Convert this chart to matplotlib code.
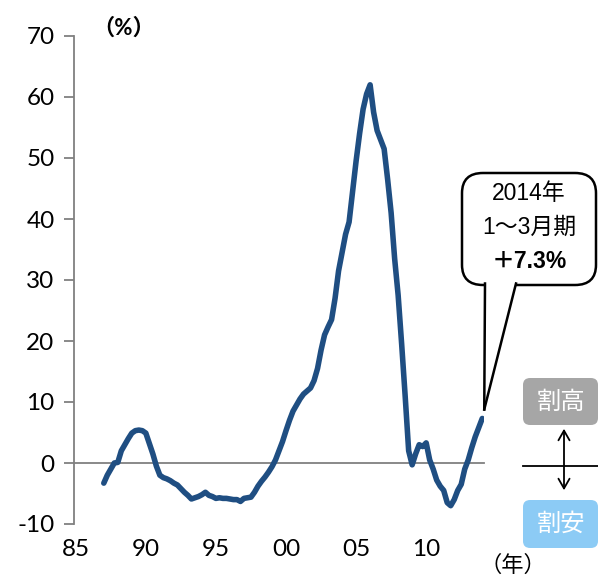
import matplotlib
matplotlib.use("Agg")
import matplotlib.pyplot as plt
import numpy as np
from matplotlib.patches import FancyBboxPatch, Polygon
from matplotlib.lines import Line2D

plt.rcParams["font.family"] = ["Lato", "Noto Sans CJK JP", "DejaVu Sans"]

# quarterly, 1987Q1 .. 2014Q1
start_year = 1987
values = [
    -3.3, -2.0, -1.0, 0.0,      # 1987
    0.1, 2.0, 3.0, 4.0,         # 1988
    4.9, 5.3, 5.4, 5.3,         # 1989
    4.9, 3.2, 1.5, -0.5,        # 1990
    -2.0, -2.4, -2.6, -2.9,     # 1991
    -3.3, -3.6, -4.2, -4.8,     # 1992
    -5.3, -5.9, -5.7, -5.5,     # 1993
    -5.2, -4.8, -5.3, -5.5,     # 1994
    -5.8, -5.7, -5.8, -5.8,     # 1995
    -5.9, -6.0, -6.0, -6.3,     # 1996
    -5.8, -5.7, -5.6, -4.8,     # 1997
    -3.8, -3.0, -2.3, -1.5,     # 1998
    -0.6, 0.5, 2.0, 3.5,        # 1999
    5.3, 7.0, 8.5, 9.5,         # 2000
    10.5, 11.3, 11.8, 12.3,     # 2001
    13.5, 15.5, 18.5, 21.0,     # 2002
    22.3, 23.5, 27.0, 31.5,     # 2003
    34.5, 37.5, 39.5, 44.5,     # 2004
    49.5, 54.0, 58.0, 60.5,     # 2005
    62.0, 57.5, 54.5, 53.0,     # 2006
    51.5, 46.5, 41.0, 33.5,     # 2007
    27.5, 19.5, 11.0, 2.0,      # 2008
    -0.3, 1.5, 3.0, 2.7,        # 2009
    3.3, 0.5, -1.0, -2.8,       # 2010
    -3.8, -4.5, -6.5, -7.0,     # 2011
    -6.0, -4.5, -3.5, -1.0,     # 2012
    0.5, 2.5, 4.3, 5.8,         # 2013
    7.3,                        # 2014Q1
]
tick_years = [1985, 1990, 1995, 2000, 2005, 2010]
tick_labels = ["85", "90", "95", "00", "05", "10"]
y_ticks = [-10, 0, 10, 20, 30, 40, 50, 60, 70]

W, H = 598, 576
fig = plt.figure(figsize=(W / 100, H / 100), dpi=100)


def fp(x, y):
    return x / W, 1 - y / H


ax = fig.add_axes([74 / W, 52 / H, 410 / W, 488 / H])

t = start_year + np.arange(len(values)) / 4.0
ax.plot(t, values, color="#1f4e82", linewidth=4.0, solid_capstyle="round",
        solid_joinstyle="round", zorder=3)
ax.axhline(0, color="#808080", linewidth=1.3, zorder=2, clip_on=False)

ax.set_xlim(1984.875, 2014.125)
ax.set_ylim(-10, 70)
ax.set_yticks(y_ticks)
ax.set_yticklabels([str(v) for v in y_ticks], fontsize=17.5)
ax.set_xticks(tick_years)
ax.set_xticklabels(tick_labels, fontsize=17.5)
ax.tick_params(axis="x", length=0, pad=11)
ax.tick_params(axis="y", length=7, width=1.3, color="#808080", pad=7)
for s in ["top", "right", "bottom"]:
    ax.spines[s].set_visible(False)
ax.spines["left"].set_color("#808080")
ax.spines["left"].set_linewidth(1.3)
ax.patch.set_alpha(0)

fig.text(*fp(124, 28), "（%）", ha="center", va="center", fontsize=16,
         fontweight="bold")
fig.text(*fp(513, 565), "（年）", ha="center", va="center", fontsize=16)

# callout
bx0, by0, bx1, by1 = 462, 173, 596, 285
box = FancyBboxPatch(fp(bx0, by1), (bx1 - bx0) / W, (by1 - by0) / H,
                     boxstyle="round,pad=0,rounding_size=0.035",
                     transform=fig.transFigure, facecolor="white",
                     edgecolor="black", linewidth=1.8, zorder=5)
fig.patches.append(box)
tip_fig = fig.transFigure.inverted().transform(
    ax.transData.transform((t[-1], values[-1])))
tip = (tip_fig[0] + 2 / W, tip_fig[1] + 9 / H)
ta = fp(485, 283)
tb = fp(516, 283)
tail = Polygon([ta, tip, tb], closed=True, transform=fig.transFigure,
               facecolor="white", edgecolor="none", zorder=6)
fig.patches.append(tail)
for p in (ta, tb):
    fig.lines.append(Line2D([p[0], tip[0]], [p[1] - 0.5 / H, tip[1]],
                            transform=fig.transFigure, color="black",
                            linewidth=1.8, zorder=7))
cx = (bx0 + bx1) / 2
cfont = ["Liberation Sans", "Noto Sans CJK JP"]
fig.text(*fp(cx, 194), "2014年", ha="center", va="center", fontsize=16.5,
         family=cfont, zorder=8)
fig.text(*fp(cx, 227), "1〜3月期", ha="center", va="center", fontsize=16.5,
         family=cfont, zorder=8)
fig.text(*fp(cx, 262), "＋7.3%", ha="center", va="center", fontsize=16.5,
         fontweight="bold", family=cfont, zorder=8)

# over/under valued legend
hi = FancyBboxPatch(fp(523, 425), 75 / W, 47 / H,
                    boxstyle="round,pad=0,rounding_size=0.012",
                    transform=fig.transFigure, facecolor="#a6a6a6",
                    edgecolor="none", zorder=5)
lo = FancyBboxPatch(fp(523, 548), 75 / W, 48 / H,
                    boxstyle="round,pad=0,rounding_size=0.012",
                    transform=fig.transFigure, facecolor="#8ccbf5",
                    edgecolor="none", zorder=5)
fig.patches.extend([hi, lo])
fig.text(*fp(561, 402), "割高", ha="center", va="center", fontsize=17.5,
         color="white", family="Noto Sans CJK JP", zorder=8)
fig.text(*fp(561, 524), "割安", ha="center", va="center", fontsize=17.5,
         color="white", family="Noto Sans CJK JP", zorder=8)
fig.lines.append(Line2D([523 / W, 598 / W], [1 - 466 / H] * 2,
                        transform=fig.transFigure, color="black",
                        linewidth=1.3))
fig.patches.append(matplotlib.patches.FancyArrowPatch(
    fp(564, 426), fp(564, 493), transform=fig.transFigure,
    arrowstyle="<->,head_length=7,head_width=4", color="black",
    linewidth=1.3, mutation_scale=1))

fig.savefig("out.png", dpi=100)
